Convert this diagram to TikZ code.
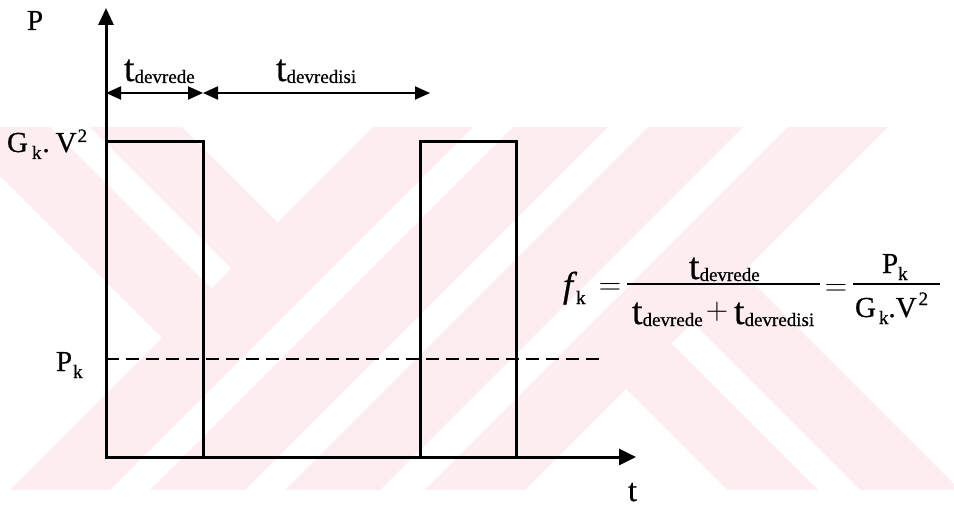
\RequirePackage{fix-cm}
\documentclass[tikz,border=0pt]{standalone}
\usepackage{fontspec}
\setmainfont{Liberation Serif}[FakeBold=0.6]
\usetikzlibrary{arrows.meta}
\definecolor{wm}{HTML}{FDEDF0}
\newcommand\subsz{\fontsize{19}{20}\selectfont}
\newcommand\bigt{\fontsize{38}{40}\selectfont t}
\newcommand\tsub[1]{{\bigt}\raisebox{-2pt}{\subsz #1}}
\newcommand\ksub{\raisebox{-7pt}{\subsz k}}
\begin{document}
\begin{tikzpicture}[x=1pt,y=-1pt,
  every node/.style={font=\fontsize{29}{34}\selectfont, inner sep=0pt, outer sep=0pt},
  axis/.style={line width=3pt, line join=miter,
     {Triangle[length=17pt,width=15pt]}-{Triangle[length=17pt,width=16pt]}},
  pulse/.style={line width=3pt, line join=miter},
  dimarrow/.style={line width=2pt, {Triangle[length=15pt,width=13pt]}-{Triangle[length=15pt,width=13pt]}},
  dashline/.style={line width=2pt, dash pattern=on 13pt off 7pt},
  fracbar/.style={line width=2pt},
  lbl/.style={anchor=base west},
  sym/.style={anchor=base, font=\fontsize{31}{36}\selectfont}]
\useasboundingbox (0,0) rectangle (954,508);
% watermark
\begin{scope}
 \clip (0,127) rectangle (954,490);
 \begin{scope}
  \clip (0,127) -- (373,127) -- (10,490) -- (0,490) -- cycle;
  \fill[wm] (-176,0) -- (-77,0) -- (523,600) -- (424,600) -- cycle;
  \fill[wm] (-37,0) -- (55,0) -- (655,600) -- (563,600) -- cycle;
 \end{scope}
 \begin{scope}
  \clip (373,127) -- (888,127) -- (525,490) -- (10,490) -- cycle;
  \foreach \a/\b in {500/600,640/735,775/870,915/1015}
   \fill[wm] (\a,0) -- (\b,0) -- (\b-600,600) -- (\a-600,600) -- cycle;
 \end{scope}
 \begin{scope}
  \clip (888,127) -- (954,127) -- (954,490) -- (525,490) -- cycle;
  \foreach \a/\b in {237/328,370/470}
   \fill[wm] (\a,0) -- (\b,0) -- (\b+600,600) -- (\a+600,600) -- cycle;
 \end{scope}
\end{scope}
% coordinates
\coordinate (O) at (106,457);
\coordinate (Ytop) at (106,8);
\coordinate (Xend) at (636,457);
\coordinate (p1a) at (106,142);
\coordinate (p1b) at (203,142);
\coordinate (p1c) at (203,457);
\coordinate (p2a) at (420,457);
\coordinate (p2b) at (420,142);
\coordinate (p2c) at (516,142);
\coordinate (p2d) at (516,457);
\coordinate (d1) at (106,359);
\coordinate (d2) at (605,359);
\coordinate (a1) at (106,93);
\coordinate (a2) at (203,93);
\coordinate (a3) at (430,93);
\coordinate (b1s) at (627,284);
\coordinate (b1e) at (820,284);
\coordinate (b2s) at (853,284);
\coordinate (b2e) at (940,284);
% drawing
\draw[pulse] (p1a) -- (p1b) -- (p1c);
\draw[pulse] (p2a) -- (p2b) -- (p2c) -- (p2d);
\draw[dashline] (d1) -- (d2);
\draw[axis] (Ytop) -- (O) -- (Xend);
\draw[dimarrow] (a1) -- (a2);
\draw[dimarrow] (a2) -- (a3);
% labels
\node[lbl] (lP) at (27,30) {P};
\node[lbl] (lton) at (124,81) {\tsub{devrede}};
\node[lbl] (ltoff) at (276,81) {\tsub{devredisi}};
\node[lbl] (lG) at (7,152) {G\kern4pt\ksub\kern1pt.\kern6pt V\kern1pt\raisebox{10pt}{\subsz 2}};
\node[lbl] (lPk) at (56,371) {P\kern1pt\ksub};
\node[lbl, font=\fontsize{32}{34}\selectfont] (lt) at (628,501) {t};
% formula
\node[lbl] (fk) at (563,297) {{\fontsize{36}{40}\selectfont\itshape f}\kern3pt\ksub};
\node[sym] (eq1) at (610,294) {$=$};
\draw[fracbar] (b1s) -- (b1e);
\node[lbl] (num1) at (689,279) {\tsub{devrede}};
\node[lbl] (den1a) at (632,324) {\tsub{devrede}};
\node[sym] (plus) at (717,319) {$+$};
\node[lbl] (den1b) at (734,324) {\tsub{devredisi}};
\node[sym] (eq2) at (836,295) {$=$};
\draw[fracbar] (b2s) -- (b2e);
\node[lbl] (num2) at (882,273) {P\ksub};
\node[lbl] (den2) at (855,317) {G\kern3pt\ksub.V\kern2pt\raisebox{12pt}{\subsz 2}};
\end{tikzpicture}
\end{document}
